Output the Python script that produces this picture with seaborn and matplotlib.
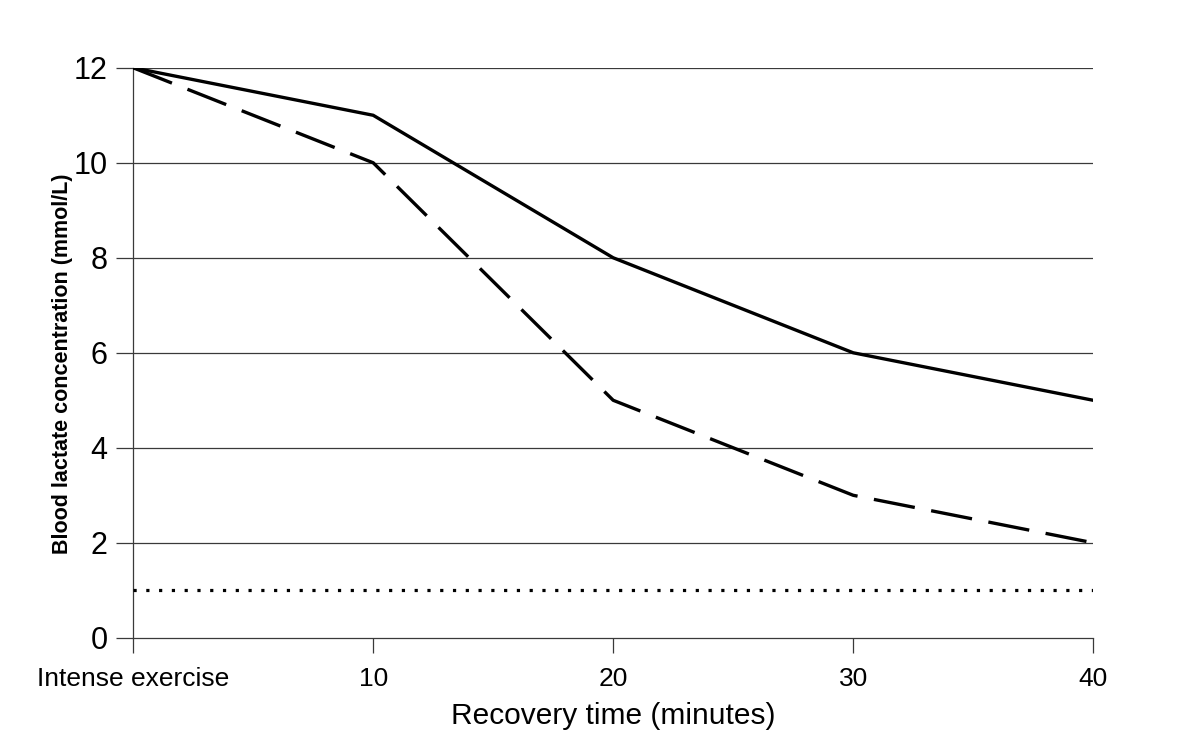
#!/usr/bin/env python3
# lactate recovery chart

import pandas as pd
import matplotlib
matplotlib.use("Agg")
import matplotlib.pyplot as plt
import seaborn as sns

# data
recovery_min = [0, 10, 20, 30, 40]
tick_labels = ["Intense exercise", "10", "20", "30", "40"]
lactate_solid = [12, 11, 8, 6, 5]
lactate_dashed = [12, 10, 5, 3, 2]
lactate_rest = [1, 1, 1, 1, 1]
y_ticks = [0, 2, 4, 6, 8, 10, 12]

sns.set_style("white")
plt.rcParams['font.family'] = ['Liberation Sans', 'DejaVu Sans']
plt.rcParams['text.color'] = 'black'
plt.rcParams['axes.labelcolor'] = 'black'
plt.rcParams['xtick.color'] = 'black'
plt.rcParams['ytick.color'] = 'black'

df = pd.DataFrame({
    'time': recovery_min,
    'solid': lactate_solid,
    'dashed': lactate_dashed,
    'rest': lactate_rest,
})

fig = plt.figure(figsize=(12, 7.53), dpi=100)
ax = fig.add_axes([0.111, 0.153, 0.8, 0.757])

grid_col = '#3a3a3a'
for v in y_ticks[1:]:
    ax.axhline(v, color=grid_col, lw=0.9, zorder=1)

sns.lineplot(data=df, x='time', y='solid', ax=ax, color='black', lw=2.4, zorder=3)
sns.lineplot(data=df, x='time', y='dashed', ax=ax, color='black', lw=2.4, zorder=3)
ax.lines[-1].set_linestyle((0, (12.5, 5)))
sns.lineplot(data=df, x='time', y='rest', ax=ax, color='black', lw=2.3, zorder=3)
ax.lines[-1].set_linestyle((0, (1, 3)))

ax.set_xlim(0, 40)
ax.set_ylim(0, 12)
ax.set_xticks(recovery_min)
ax.set_xticklabels(tick_labels, fontsize=19)
ax.set_yticks(y_ticks)
ax.set_yticklabels([str(t) for t in y_ticks], fontsize=22)

ax.tick_params(axis='x', direction='out', length=11, width=0.9, color=grid_col, pad=10)
ax.tick_params(axis='y', direction='out', length=12.5, width=0.9, color=grid_col, pad=6)
ax.tick_params(bottom=True, left=True)

for side in ['top', 'right']:
    ax.spines[side].set_visible(False)
for side in ['left', 'bottom']:
    ax.spines[side].set_color(grid_col)
    ax.spines[side].set_linewidth(0.9)

ax.set_xlabel('Recovery time (minutes)', fontsize=21.5, labelpad=8)
ax.set_ylabel('Blood lactate concentration (mmol/L)', fontsize=15.5,
              fontweight='bold')
ax.yaxis.set_label_coords(-0.063, 0.48)

fig.savefig('out.png', dpi=100)
